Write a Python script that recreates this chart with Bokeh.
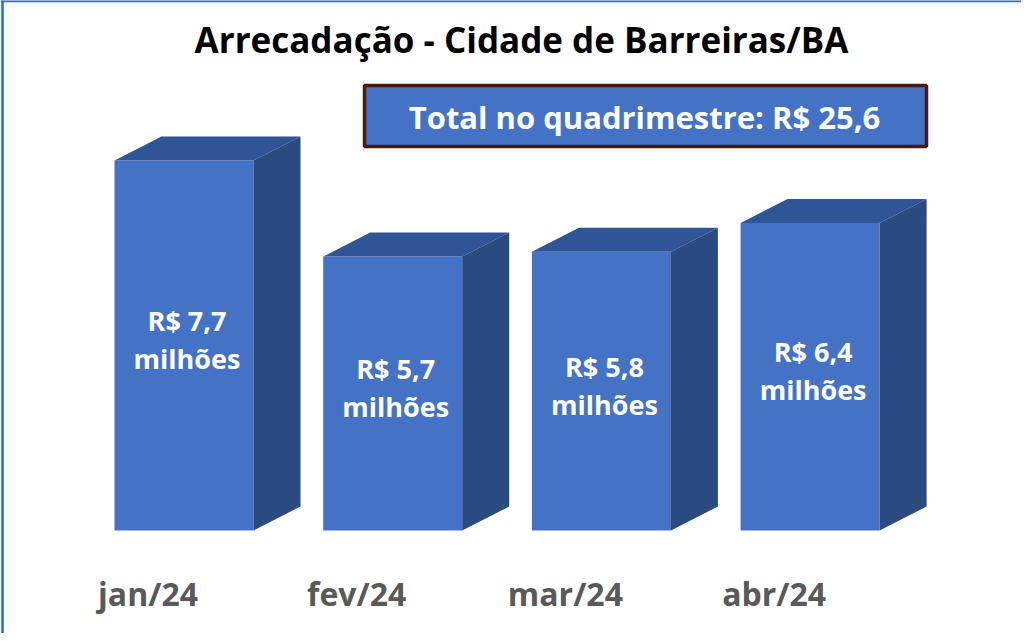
from bokeh.plotting import figure
from bokeh.models import Range1d, Label, ColumnDataSource, BoxAnnotation, Span
from bokeh.core.properties import value
from bokeh.embed import file_html
from bokeh.resources import INLINE

# ---- data ----
categories = ["jan/24", "fev/24", "mar/24", "abr/24"]
values = [7.7, 5.7, 5.8, 6.4]
bar_labels = ["R$ 7,7\nmilhões", "R$ 5,7\nmilhões", "R$ 5,8\nmilhões", "R$ 6,4\nmilhões"]
title_text = "Arrecadação - Cidade de Barreiras/BA"
total_text = "Total no quadrimestre: R$ 25,6"

# ---- layout constants ----
W, H = 1021, 633
PX_X = 208.7          # px per category unit
PX_Y = 48.05          # px per value unit
X0 = 183.5            # canvas px of first bar centre
Y0 = 530              # canvas px of value 0 (from top)

FONT = "Open Sans"
FRONT = "#4472C4"
TOP = "#2F5597"
SIDE = "#2B4A80"
BORDER = "#1F72C6"

x_start, x_end = -X0 / PX_X, (W - X0) / PX_X
y_start, y_end = -(H - Y0) / PX_Y, Y0 / PX_Y

p = figure(width=W, height=H, output_backend="svg", toolbar_location=None,
           x_range=Range1d(x_start, x_end), y_range=Range1d(y_start, y_end),
           min_border=0, min_border_left=0, min_border_right=0,
           min_border_top=0, min_border_bottom=0)
p.axis.visible = False
p.grid.visible = False
p.background_fill_color = "white"
p.border_fill_color = "white"
p.outline_line_color = None

# chart border (left and top only visible in the reference crop)
p.add_layout(Span(location=x_start + 2 / PX_X, dimension="height",
                  line_color=BORDER, line_width=2.5))
p.add_layout(Span(location=y_end - 0.5 / PX_Y, dimension="width",
                  line_color=BORDER, line_width=2.5))

bw = 139 / PX_X       # bar front width
dx = 47 / PX_X        # depth x
dy = 24 / PX_Y        # depth y

xs = list(range(len(categories)))

# front faces
p.quad(left=[x - bw / 2 for x in xs], right=[x + bw / 2 for x in xs],
       bottom=[0] * len(xs), top=values, fill_color=FRONT, line_color=None)

# top and side faces
top_xs, top_ys, side_xs, side_ys = [], [], [], []
for x, v in zip(xs, values):
    l, r = x - bw / 2, x + bw / 2
    top_xs.append([l, r, r + dx, l + dx])
    top_ys.append([v, v, v + dy, v + dy])
    side_xs.append([r, r + dx, r + dx, r])
    side_ys.append([0, dy, v + dy, v])
p.patches(top_xs, top_ys, fill_color=TOP, line_color=None)
p.patches(side_xs, side_ys, fill_color=SIDE, line_color=None)

# labels inside bars
src = ColumnDataSource(dict(x=xs, y=[v / 2 for v in values], t=bar_labels))
p.text(x="x", y="y", text="t", source=src, text_color="white",
       text_font=value(FONT), text_font_style="bold", text_font_size="27px",
       text_align="center", text_baseline="middle", text_line_height=1.03,
       x_offset=3, y_offset=-6)

# category labels
csrc = ColumnDataSource(dict(x=xs, y=[0] * len(xs), t=categories))
p.text(x="x", y="y", text="t", source=csrc, text_color="#595959",
       text_font=value(FONT), text_font_style="bold", text_font_size="32px",
       text_align="center", text_baseline="middle", x_offset=-36, y_offset=63)

# title
p.add_layout(Label(x=521, y=H - 39, x_units="screen", y_units="screen",
                   text=title_text, text_font=FONT, text_font_style="bold",
                   text_font_size="35px", text_color="black",
                   text_align="center", text_baseline="middle"))

# total box
box = BoxAnnotation(left=(364 - X0) / PX_X, right=(926 - X0) / PX_X,
                    top=(Y0 - 85) / PX_Y, bottom=(Y0 - 146) / PX_Y,
                    fill_color=FRONT, fill_alpha=1.0,
                    line_color="#4A1A12", line_alpha=1.0, line_width=3.5,
                    level="underlay")
p.add_layout(box)
p.add_layout(Label(x=644, y=H - 116, x_units="screen", y_units="screen",
                   text=total_text, text_font=FONT, text_font_style="bold",
                   text_font_size="31px", text_color="white",
                   text_align="center", text_baseline="middle"))

open("out.html", "w").write(file_html(p, INLINE))
